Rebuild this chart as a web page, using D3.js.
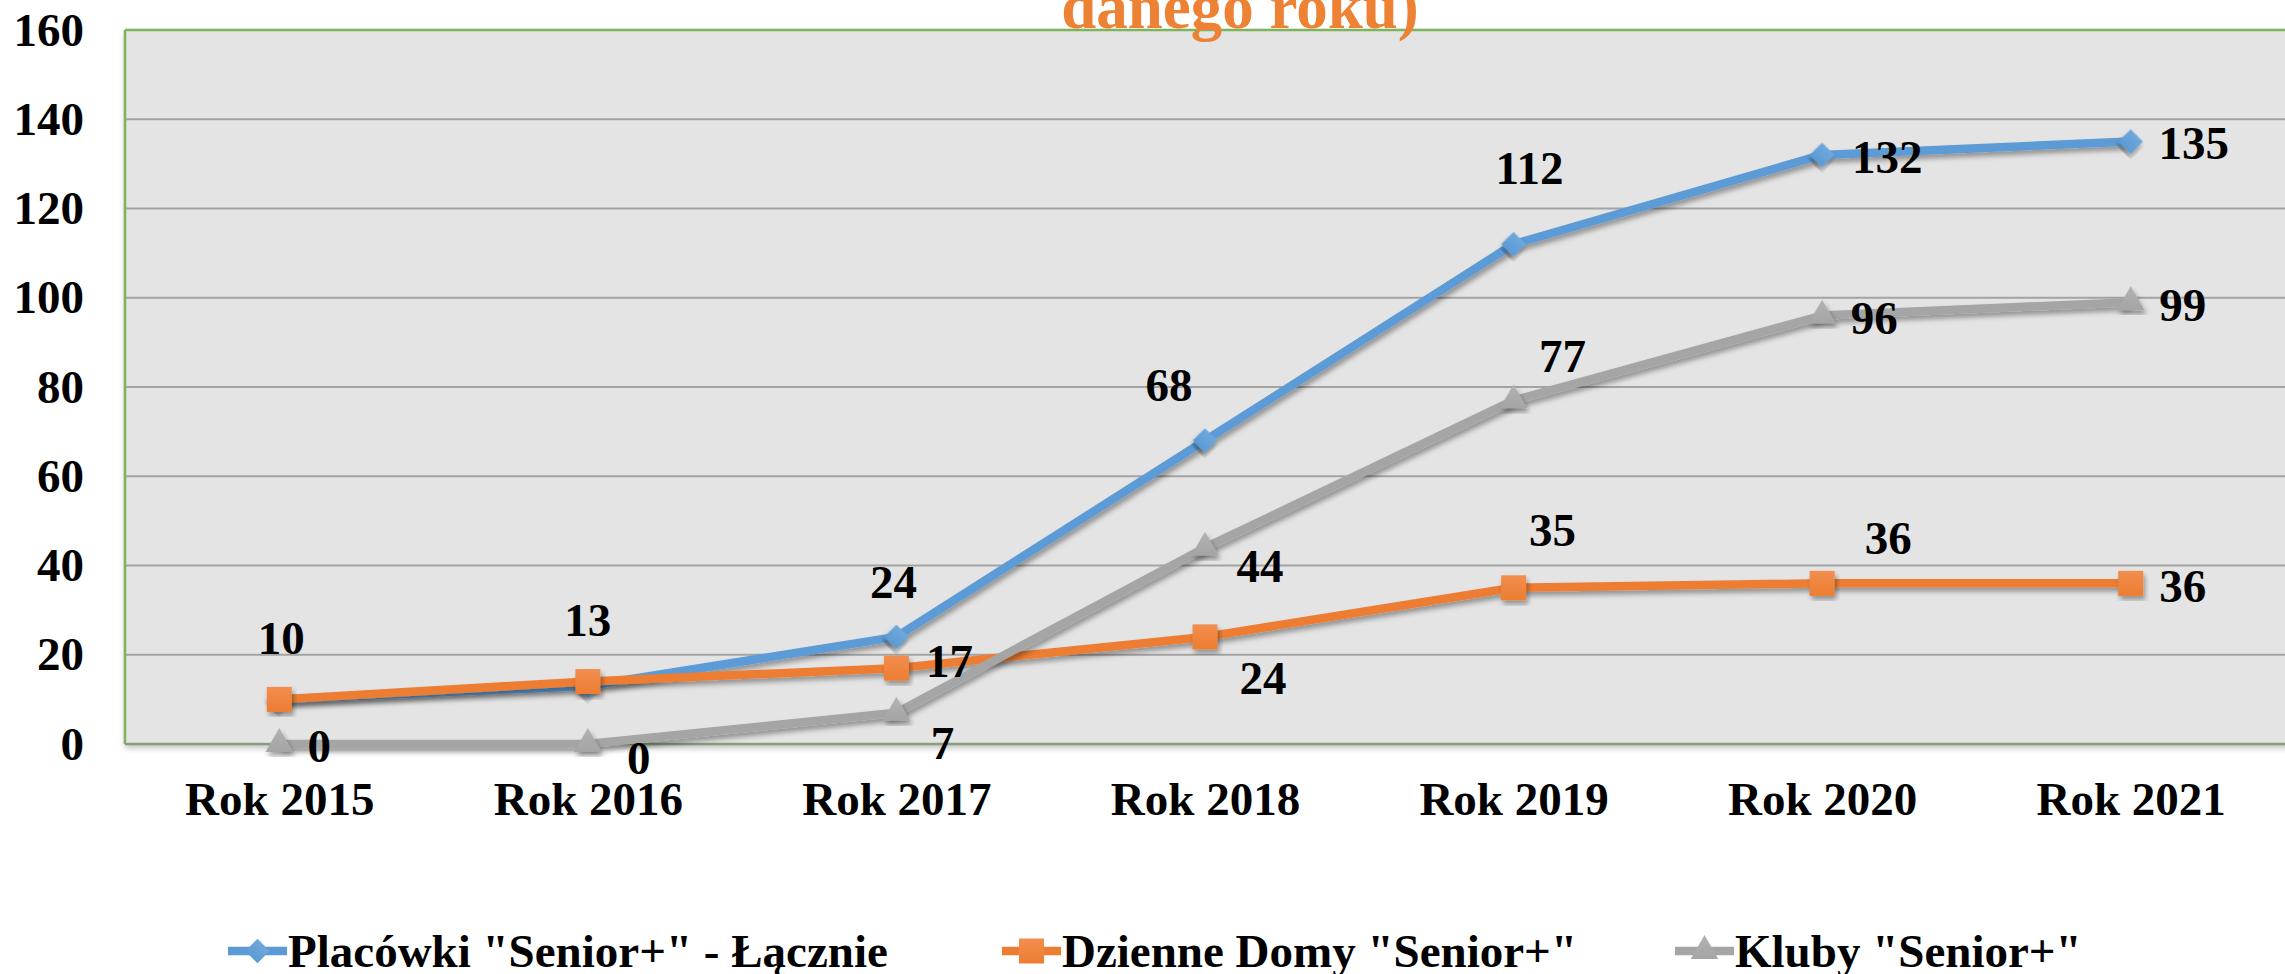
<!DOCTYPE html>
<html>
<head>
<meta charset="utf-8">
<script src="https://cdn.jsdelivr.net/npm/d3@7"></script>
<style>
  body { margin: 0; background: #ffffff; }
  svg { display: block; }
  text { font-family: "Liberation Serif", "Times New Roman", serif; font-weight: bold; }
</style>
</head>
<body>
<div id="chart"></div>
<script>
// chart data
const categories = ["Rok 2015", "Rok 2016", "Rok 2017", "Rok 2018", "Rok 2019", "Rok 2020", "Rok 2021"];
const seriesNames = ["Placówki \"Senior+\" - Łącznie", "Dzienne Domy \"Senior+\"", "Kluby \"Senior+\""];
const totalValues = [10, 13, 24, 68, 112, 132, 135];
const dayHomeValues = [10, 14, 17, 24, 35, 36, 36];
const clubValues = [0, 0, 7, 44, 77, 96, 99];
const yTicks = [0, 20, 40, 60, 80, 100, 120, 140, 160];
const titleText = "danego roku)";

// which labels are shown and where they sit, relative to the point (label centre)
const totalLabelOffsets = [[2, -61], [0, -66], [-3, -55], [-36, -56], [16, -76], [65, 2], [63, 1]];
const dayHomeLabelOffsets = [null, null, [53, -7], [58, 41], [39, -58], [66, -45], [52, 3]];
const clubLabelOffsets = [[40, 2], [51, 14], [46, 30], [55, 18], [49, -44], [52, 2], [52, 3]];

const width = 2285, height = 974;
const plot = { left: 125, top: 30, right: 2285, bottom: 744 };
const fontSize = 47;

let series = [
  { name: seriesNames[0], values: totalValues, offsets: totalLabelOffsets, color: "#5B9BD5", light: "#6FA8DC", shape: "diamond" },
  { name: seriesNames[1], values: dayHomeValues, offsets: dayHomeLabelOffsets, color: "#ED7D31", light: "#F28E4F", shape: "square" },
  { name: seriesNames[2], values: clubValues, offsets: clubLabelOffsets, color: "#A5A5A5", light: "#B2B2B2", shape: "triangle" }
];

let x = d3.scalePoint()
  .domain(categories)
  .range([plot.left, plot.right])
  .padding(0.5);

let y = d3.scaleLinear()
  .domain([0, 160])
  .range([plot.bottom, plot.top]);

let svg = d3.select("#chart").append("svg")
  .attr("width", width)
  .attr("height", height);

//shadow filters
let defs = svg.append("defs");
let shadow = defs.append("filter").attr("id", "shadow")
  .attr("x", "-20%").attr("y", "-20%").attr("width", "140%").attr("height", "140%");
shadow.append("feDropShadow")
  .attr("dx", 2).attr("dy", 4).attr("stdDeviation", 2.5)
  .attr("flood-color", "#000").attr("flood-opacity", 0.35);

let plotShadow = defs.append("filter").attr("id", "plotShadow")
  .attr("x", "-5%").attr("y", "-5%").attr("width", "110%").attr("height", "110%");
plotShadow.append("feDropShadow")
  .attr("dx", 0).attr("dy", 4).attr("stdDeviation", 3)
  .attr("flood-color", "#000").attr("flood-opacity", 0.25);

//marker gradients
series.forEach(function (s, i) {
  let grad = defs.append("linearGradient").attr("id", "grad" + i)
    .attr("x1", 0).attr("y1", 0).attr("x2", 0).attr("y2", 1);
  grad.append("stop").attr("offset", "0%").attr("stop-color", s.light);
  grad.append("stop").attr("offset", "100%").attr("stop-color", s.color);
});

//plot area
svg.append("rect")
  .attr("x", plot.left)
  .attr("y", plot.top)
  .attr("width", plot.right - plot.left + 20)
  .attr("height", plot.bottom - plot.top)
  .style("fill", "#E4E4E4")
  .style("filter", "url(#plotShadow)");

//grid lines
svg.append("g")
  .selectAll("line")
  .data(yTicks.filter(d => d > 0 && d < 160))
  .enter().append("line")
  .attr("x1", plot.left)
  .attr("x2", plot.right)
  .attr("y1", d => y(d))
  .attr("y2", d => y(d))
  .style("stroke", "#A3A3A3")
  .style("stroke-width", 2);

//border: green on top and left, grey-green at the bottom
svg.append("line")
  .attr("x1", plot.left).attr("x2", plot.right)
  .attr("y1", plot.top).attr("y2", plot.top)
  .style("stroke", "#7DB35A").style("stroke-width", 2.5);
svg.append("line")
  .attr("x1", plot.left).attr("x2", plot.left)
  .attr("y1", plot.top).attr("y2", plot.bottom)
  .style("stroke", "#7DB35A").style("stroke-width", 2.5);
svg.append("line")
  .attr("x1", plot.left).attr("x2", plot.right)
  .attr("y1", plot.bottom).attr("y2", plot.bottom)
  .style("stroke", "#8A9C80").style("stroke-width", 2.5);

//y axis
let yAxis = svg.append("g")
  .attr("transform", "translate(" + plot.left + ",0)")
  .call(d3.axisLeft(y).tickValues(yTicks).tickSize(0).tickPadding(41));
yAxis.select(".domain").remove();
yAxis.selectAll("text")
  .style("font-size", fontSize + "px")
  .style("font-family", "'Liberation Serif', serif")
  .style("font-weight", "bold")
  .attr("fill", "#000");

//x axis
let xAxis = svg.append("g")
  .attr("transform", "translate(0," + plot.bottom + ")")
  .call(d3.axisBottom(x).tickSize(0).tickPadding(38));
xAxis.select(".domain").remove();
xAxis.selectAll("text")
  .style("font-size", fontSize + "px")
  .style("font-family", "'Liberation Serif', serif")
  .style("font-weight", "bold")
  .attr("fill", "#000");

//marker shapes
function markerPath(shape) {
  if (shape == "diamond") return d3.symbol().type(d3.symbolSquare).size(300)();
  if (shape == "square") return d3.symbol().type(d3.symbolSquare).size(625)();
  return d3.symbol().type(d3.symbolTriangle).size(330)();
}
function markerRotate(shape) {
  return shape == "diamond" ? " rotate(45)" : "";
}

let line = d3.line()
  .x((d, i) => x(categories[i]))
  .y(d => y(d));

//series lines and markers
series.forEach(function (s, si) {
  let g = svg.append("g").attr("class", "series");

  g.append("path")
    .attr("d", line(s.values))
    .style("fill", "none")
    .style("stroke", s.color)
    .style("stroke-width", 8.5)
    .style("stroke-linejoin", "round")
    .style("filter", "url(#shadow)");

  g.selectAll(".marker")
    .data(s.values)
    .enter().append("path")
    .attr("class", "marker")
    .attr("d", markerPath(s.shape))
    .attr("transform", (d, i) => "translate(" + x(categories[i]) + "," + y(d) + ")" + markerRotate(s.shape))
    .style("fill", "url(#grad" + si + ")")
    .style("filter", "url(#shadow)");
});

//data labels
series.forEach(function (s) {
  svg.append("g")
    .selectAll("text")
    .data(s.values.map((v, i) => ({ v: v, i: i, off: s.offsets[i] })).filter(d => d.off))
    .enter().append("text")
    .attr("x", d => x(categories[d.i]) + d.off[0])
    .attr("y", d => y(d.v) + d.off[1] + 16)
    .attr("text-anchor", "middle")
    .style("font-size", fontSize + "px")
    .attr("fill", "#000")
    .text(d => d.v);
});

//title (only the last line shows)
svg.append("text")
  .attr("x", 1240)
  .attr("y", 28)
  .attr("text-anchor", "middle")
  .style("font-size", "63px")
  .attr("fill", "#EE8234")
  .text(titleText);

//legend
let legendX = [228, 1002, 1675];
let legend = svg.append("g").attr("class", "legend");
series.forEach(function (s, i) {
  let item = legend.append("g")
    .attr("transform", "translate(" + legendX[i] + ",951)");
  item.append("line")
    .attr("x1", 0).attr("x2", 59)
    .attr("y1", 0).attr("y2", 0)
    .style("stroke", s.color)
    .style("stroke-width", 8.5);
  item.append("path")
    .attr("d", markerPath(s.shape))
    .attr("transform", "translate(29.5,0)" + markerRotate(s.shape))
    .style("fill", "url(#grad" + i + ")");
  item.append("text")
    .attr("x", 60)
    .attr("y", 16)
    .style("font-size", fontSize + "px")
    .attr("fill", "#000")
    .text(s.name);
});
</script>
</body>
</html>
